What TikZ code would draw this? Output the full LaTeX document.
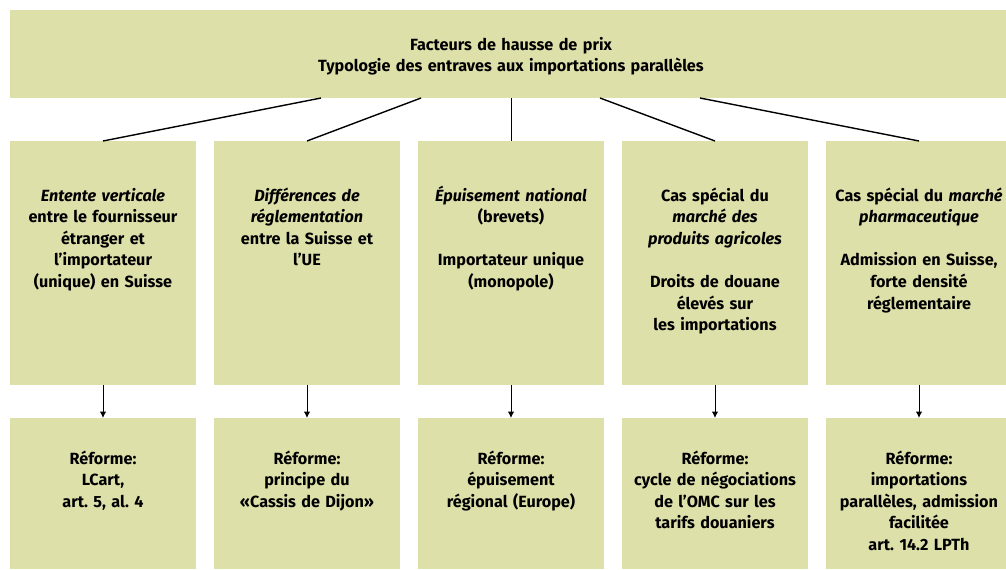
\documentclass[tikz,border=0pt]{standalone}
\usepackage{fontspec}
\setmainfont{Fira Sans}
\usepackage{xcolor}
\usetikzlibrary{arrows.meta,positioning}
\definecolor{boxfill}{RGB}{222,224,170}
\frenchspacing

\begin{document}
\begin{tikzpicture}[
    node distance=9pt,
    font=\fontsize{8.1}{10.8}\selectfont\bfseries,
    every node/.style={outer sep=0pt},
    head/.style={rectangle, fill=boxfill, text width=501pt, align=center, inner sep=0pt, text height=20pt, text depth=24pt},
    cause/.style={rectangle, fill=boxfill, text width=93pt, align=center, inner sep=0pt, text height=30pt, text depth=92pt},
    reform/.style={rectangle, fill=boxfill, text width=93pt, align=center, inner sep=0pt, text height=23pt, text depth=52.5pt},
    link/.style={line width=0.7pt},
    arrow/.style={line width=0.5pt, -{Latex[length=3.2pt,width=3.2pt]}}
]
    \useasboundingbox (0,0) rectangle (503pt,-284.5pt);
    \node[head, anchor=north west] (top) at (5pt,-5pt) {Facteurs de hausse de prix\\Typologie des entraves aux importations parallèles};
    \node[cause, below right=21.5pt and 0pt of top.south west] (entente) {\textit{Entente verticale}\\entre le fournisseur\\étranger et\\l’importateur\\(unique) en Suisse};
    \node[cause, right=of entente] (reglem) {\textit{Différences de}\\\textit{réglementation}\\entre la Suisse et\\l’UE};
    \node[cause, right=of reglem] (epuis) {\textit{Épuisement national}\\(brevets)\\[10.8pt]Importateur unique\\(monopole)};
    \node[cause, right=of epuis] (agri) {Cas spécial du\\\textit{marché des}\\\textit{produits agricoles}\\[10.8pt]Droits de douane\\élevés sur\\les importations};
    \node[cause, right=of agri] (pharma) {Cas spécial du \textit{marché}\\\textit{pharmaceutique}\\[10.8pt]Admission en Suisse,\\forte densité\\réglementaire};
    \node[reform, below=16.5pt of entente] (lcart) {Réforme:\\LCart,\\art. 5, al. 4};
    \node[reform, below=16.5pt of reglem] (cassis) {Réforme:\\principe du\\«Cassis de Dijon»};
    \node[reform, below=16.5pt of epuis] (region) {Réforme:\\épuisement\\régional (Europe)};
    \node[reform, below=16.5pt of agri] (omc) {Réforme:\\cycle de négociations\\de l’OMC sur les\\tarifs douaniers};
    \node[reform, below=16.5pt of pharma] (lpth) {Réforme:\\importations\\parallèles, admission\\facilitée\\art. 14.2 LPTh};

    \draw[link] ([xshift=-95pt]top.south) -- (entente.north);
    \draw[link] ([xshift=-45pt]top.south) -- (reglem.north);
    \draw[line width=0.5pt] (top.south) -- (epuis.north);
    \draw[link] ([xshift=44.5pt]top.south) -- (agri.north);
    \draw[link] ([xshift=94.5pt]top.south) -- (pharma.north);
    \draw[arrow] (entente) -- (lcart);
    \draw[arrow] (reglem) -- (cassis);
    \draw[arrow] (epuis) -- (region);
    \draw[arrow] (agri) -- (omc);
    \draw[arrow] (pharma) -- (lpth);
\end{tikzpicture}
\end{document}
